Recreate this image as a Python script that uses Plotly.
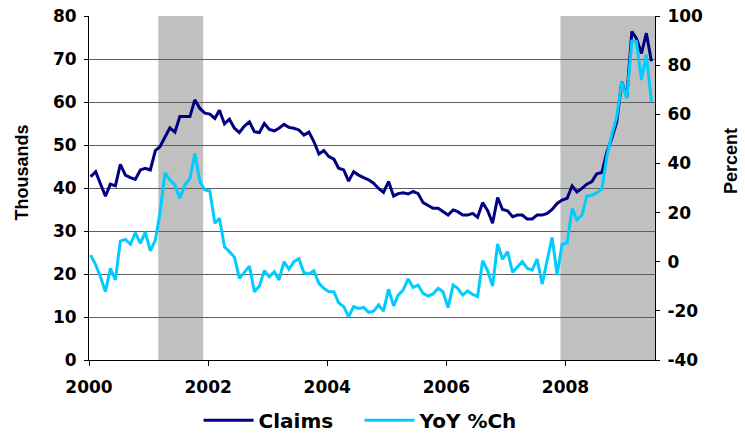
import pandas as pd
import plotly.graph_objects as go

# monthly data, Jan 2000 - Jun 2009
months = pd.date_range("2000-01-01", "2009-06-01", freq="MS") + pd.Timedelta(days=10)

claims = [
    42.6, 43.8, 41.0, 38.1, 40.9, 40.5, 45.5, 43.0, 42.4, 42.0, 44.2, 44.6,
    44.2, 48.7, 49.6, 51.8, 54.0, 53.0, 56.6, 56.6, 56.6, 60.5, 58.5, 57.4,
    57.2, 56.2, 58.1, 54.9, 56.0, 53.9, 52.9, 54.4, 55.4, 53.1, 52.9, 55.0,
    53.6, 53.3, 53.9, 54.8, 54.1, 53.9, 53.5, 52.3, 53.0, 50.8, 47.9, 48.7,
    47.3, 46.7, 44.6, 44.2, 41.6, 43.8, 43.0, 42.4, 41.9, 41.1, 39.9, 39.0,
    41.5, 38.1, 38.7, 38.9, 38.6, 39.2, 38.7, 36.6, 36.0, 35.3, 35.3, 34.5,
    33.7, 34.9, 34.5, 33.7, 33.7, 34.1, 33.2, 36.6, 34.7, 31.8, 37.8, 35.0,
    34.7, 33.3, 33.7, 33.7, 32.8, 32.8, 33.7, 33.7, 34.1, 35.0, 36.4, 37.2,
    37.6, 40.5, 39.1, 39.9, 40.9, 41.5, 43.3, 43.6, 48.4, 51.5, 55.5, 64.7,
    61.2, 76.4, 74.8, 71.3, 76.0, 69.5,
]

yoy = [
    2.7, -1.3, -6.1, -12.2, -2.7, -7.4, 8.4, 9.1, 7.1, 11.8, 7.5, 12.0,
    4.4, 8.8, 19.7, 36.2, 33.3, 31.2, 25.8, 31.2, 33.9, 44.1, 32.6, 29.2,
    28.8, 15.6, 17.7, 6.1, 4.1, 1.8, -6.8, -4.1, -1.8, -12.2, -9.9, -3.7,
    -6.1, -4.1, -7.4, 0.0, -3.1, 0.0, 1.2, -4.5, -5.0, -3.7, -8.8, -10.8,
    -12.2, -12.2, -16.7, -18.3, -22.4, -18.3, -19.0, -18.6, -20.6, -20.1, -17.6, -20.1,
    -11.2, -18.0, -13.6, -11.5, -7.0, -10.4, -9.5, -12.9, -14.0, -13.1, -10.8, -12.2,
    -18.7, -9.5, -10.8, -13.6, -11.9, -13.3, -14.2, 0.4, -3.7, -9.9, 7.2, 1.0,
    4.1, -4.3, -2.3, 0.0, -2.7, -3.4, 1.1, -9.1, 0.7, 9.9, -5.4, 7.1,
    7.7, 21.7, 17.0, 19.0, 26.7, 27.1, 28.1, 29.5, 43.0, 51.6, 59.0, 73.3,
    66.5, 89.8, 89.6, 74.0, 84.2, 65.1,
]

recessions = [("2001-03-01", "2001-12-01"), ("2007-12-01", "2009-07-03")]
year_ticks = ["2000-01-01", "2002-01-01", "2004-01-01", "2006-01-01", "2008-01-01"]
year_labels = ["2000", "2002", "2004", "2006", "2008"]

tick_font = dict(family="DejaVu Sans", size=17, color="black")
title_font = dict(family="Liberation Sans", size=18, color="black")

fig = go.Figure()
fig.add_trace(
    go.Scatter(x=months, y=claims, name="<b>Claims</b>", mode="lines",
               line=dict(color="#000080", width=3))
)
fig.add_trace(
    go.Scatter(x=months, y=yoy, name="<b>YoY %Ch</b>", mode="lines", yaxis="y2",
               line=dict(color="#00CCFF", width=3))
)

# recession shading
shapes = [
    dict(type="rect", xref="x", yref="paper", x0=a, x1=b, y0=0, y1=1,
         fillcolor="#C0C0C0", line=dict(width=0), layer="between")
    for a, b in recessions
]

fig.update_layout(
    width=745,
    height=433,
    margin=dict(l=89, r=90, t=16, b=73, pad=0, autoexpand=False),
    paper_bgcolor="white",
    plot_bgcolor="white",
    shapes=shapes,
    showlegend=True,
    legend=dict(
        orientation="h", x=0.478, xanchor="center", y=-0.175, yanchor="middle",
        font=dict(family="DejaVu Sans", size=20, color="black"),
        itemwidth=50, entrywidth=96, entrywidthmode="pixels",
        bgcolor="rgba(0,0,0,0)",
    ),
    xaxis=dict(
        range=["2000-01-01", "2009-07-03"],
        tickvals=year_ticks, ticktext=["<b>%s</b>" % t for t in year_labels],
        ticks="outside", ticklen=5, tickcolor="black", ticklabelstandoff=7,
        showline=True, linecolor="black", linewidth=1,
        showgrid=False, zeroline=False, tickfont=tick_font,
        automargin=False, ticklabeloverflow="allow",
    ),
    yaxis=dict(
        range=[0, 80], tickvals=list(range(0, 81, 10)),
        ticktext=["<b>%d</b>" % v for v in range(0, 81, 10)],
        ticks="outside", ticklen=4, tickcolor="black", ticklabelstandoff=4,
        showline=True, linecolor="black", linewidth=1,
        showgrid=True, gridcolor="#5e5e5e", gridwidth=1,
        zeroline=False, tickfont=tick_font, automargin=False,
        ticklabeloverflow="allow",
    ),
    yaxis2=dict(
        range=[-40, 100], tickvals=list(range(-40, 101, 20)),
        ticktext=["<b>%d</b>" % v for v in range(-40, 101, 20)],
        overlaying="y", side="right",
        ticks="outside", ticklen=4, tickcolor="black", ticklabelstandoff=4,
        showline=True, linecolor="black", linewidth=1,
        showgrid=False, zeroline=False, tickfont=tick_font, automargin=False,
        ticklabeloverflow="allow",
    ),
    annotations=[
        dict(text="<b>Thousands</b>", xref="paper", yref="paper", x=-0.119, y=0.544,
             textangle=-90, showarrow=False, font=title_font,
             xanchor="center", yanchor="middle"),
        dict(text="<b>Percent</b>", xref="paper", yref="paper", x=1.134, y=0.578,
             textangle=-90, showarrow=False, font=title_font,
             xanchor="center", yanchor="middle"),
    ],
)

# drop the browser's default body margin so the figure fills the window
fig.write_html(
    "out.html",
    config={"displayModeBar": False},
    post_script="document.body.style.margin='0';document.body.style.overflow='hidden';",
)
